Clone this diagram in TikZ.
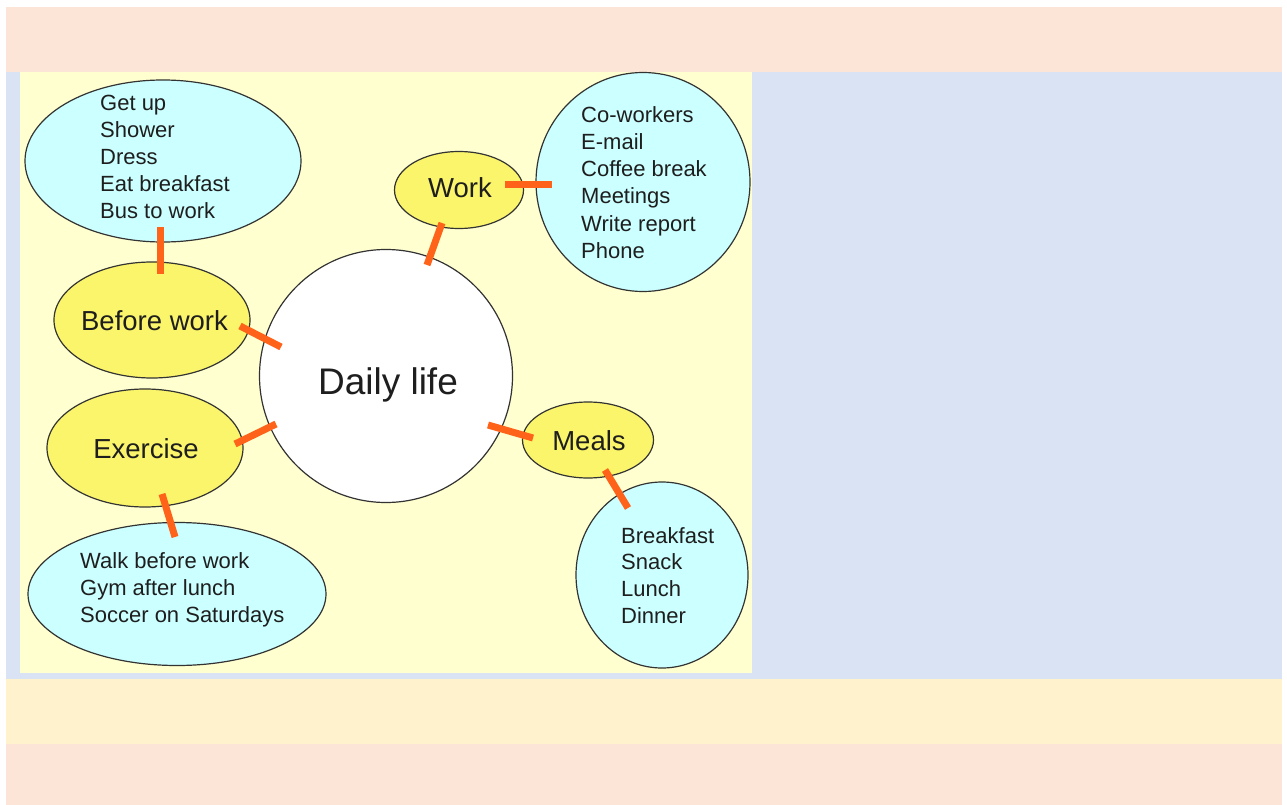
\documentclass[tikz,border=0pt]{standalone}
\usepackage{fontspec}
\setmainfont{Liberation Sans}
\usetikzlibrary{shapes.geometric}
\definecolor{peach}{HTML}{FCE4D6}
\definecolor{bluebg}{HTML}{DAE3F3}
\definecolor{lyband}{HTML}{FFF2CC}
\definecolor{panel}{HTML}{FFFFD0}
\definecolor{cyanfill}{HTML}{CCFFFF}
\definecolor{yelfill}{HTML}{FBF56B}
\definecolor{orangeln}{HTML}{FF6319}
\definecolor{outln}{HTML}{333333}
\definecolor{txt}{HTML}{1E1E1E}
\begin{document}
\begin{tikzpicture}[x=1pt,y=-1pt,
  shapebase/.style={ellipse,draw=outln,line width=1.2pt,inner sep=0pt},
  cyanshape/.style={shapebase,fill=cyanfill},
  yelshape/.style={shapebase,fill=yelfill},
  centershape/.style={shapebase,fill=white},
  listtxt/.style={anchor=base west,inner sep=0pt,text=txt,font=\fontsize{22}{27}\selectfont},
  labeltxt/.style={anchor=base,inner sep=0pt,text=txt,font=\fontsize{27.5}{32}\selectfont},
  bigtxt/.style={anchor=base,inner sep=0pt,text=txt,font=\fontsize{37}{42}\selectfont},
  link/.style={draw=orangeln,line width=7pt}]
\useasboundingbox (0,0) rectangle (1287,805);
% background bands
\fill[white] (0,0) rectangle (1287,805);
\fill[peach] (6,7) rectangle (1282,72);
\fill[bluebg] (6,72) rectangle (1282,679);
\fill[lyband] (6,679) rectangle (1282,744);
\fill[peach] (6,744) rectangle (1282,805);
\fill[panel] (20,72) rectangle (752,673);

% shapes
\node[cyanshape,minimum width=276,minimum height=162] (bwl) at (163,161) {};
\node[yelshape,minimum width=196,minimum height=116] (bw) at (152,320) {};
\node[yelshape,minimum width=196,minimum height=118] (ex) at (145,448) {};
\node[cyanshape,minimum width=298,minimum height=143] (exl) at (177,594) {};
\node[centershape,minimum width=253,minimum height=253] (dl) at (386,376) {};
\node[yelshape,minimum width=129,minimum height=77] (wk) at (459,190) {};
\node[cyanshape,minimum width=214,minimum height=219] (wkl) at (643,182) {};
\node[yelshape,minimum width=131,minimum height=76] (ml) at (588,440) {};
\node[cyanshape,minimum width=172,minimum height=186] (mll) at (662,575) {};

% connector end points
\coordinate (c1a) at (160,227); \coordinate (c1b) at (160,274);
\coordinate (c2a) at (240,326); \coordinate (c2b) at (281,347);
\coordinate (c3a) at (235,444); \coordinate (c3b) at (276,424);
\coordinate (c4a) at (162,494); \coordinate (c4b) at (175,537);
\coordinate (c5a) at (442,223); \coordinate (c5b) at (427,265);
\coordinate (c6a) at (505,185); \coordinate (c6b) at (552,185);
\coordinate (c7a) at (488,425); \coordinate (c7b) at (533,438);
\coordinate (c8a) at (605,470); \coordinate (c8b) at (628,508);
\draw[link] (c1a) -- (c1b);
\draw[link] (c2a) -- (c2b);
\draw[link] (c3a) -- (c3b);
\draw[link] (c4a) -- (c4b);
\draw[link] (c5a) -- (c5b);
\draw[link] (c6a) -- (c6b);
\draw[link] (c7a) -- (c7b);
\draw[link] (c8a) -- (c8b);

% labels
\node[bigtxt] (tdl) at (388,394) {Daily life};
\node[labeltxt] (tbw) at (154.5,330) {Before work};
\node[labeltxt] (tex) at (146,458) {Exercise};
\node[labeltxt] (twk) at (460,198) {Work};
\node[labeltxt] (tml) at (589,450) {Meals};

% lists
\foreach \t [count=\i from 0] in {Get up,Shower,Dress,Eat breakfast,Bus to work}
  \node[listtxt] (lb\i) at (100,111+26.8*\i) {\t};
\foreach \t [count=\i from 0] in {Co-workers,E-mail,Coffee break,Meetings,Write report,Phone}
  \node[listtxt] (lw\i) at (581,123+27*\i) {\t};
\foreach \t [count=\i from 0] in {Breakfast,Snack,Lunch,Dinner}
  \node[listtxt] (lm\i) at (621,543+26.7*\i) {\t};
\foreach \t [count=\i from 0] in {Walk before work,Gym after lunch,Soccer on Saturdays}
  \node[listtxt] (le\i) at (80,568+27*\i) {\t};
\end{tikzpicture}
\end{document}
